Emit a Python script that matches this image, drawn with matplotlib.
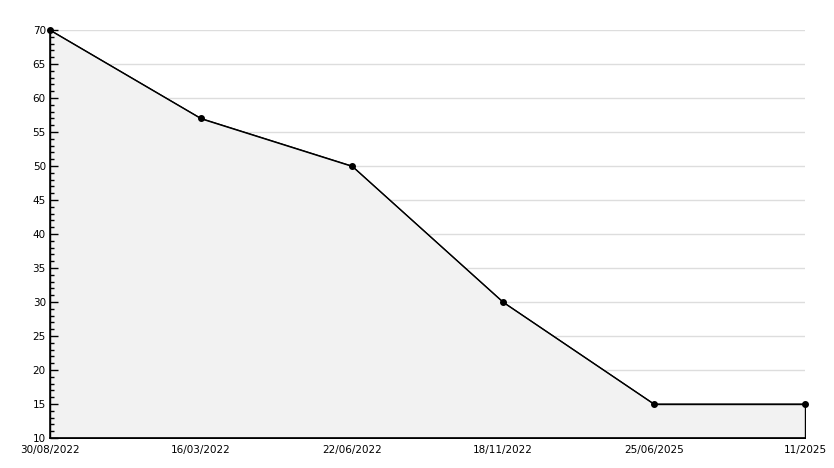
import matplotlib
matplotlib.use("Agg")
import matplotlib.pyplot as plt
from matplotlib.ticker import MultipleLocator

# data
dates = ["30/08/2022", "16/03/2022", "22/06/2022", "18/11/2022", "25/06/2025", "11/2025"]
values = [70, 57, 50, 30, 15, 15]
y_grid = [15, 20, 25, 30, 35, 40, 45, 50, 55, 60, 65, 70]

fig = plt.figure(figsize=(8.34, 4.68), dpi=100)
ax = fig.add_axes([50 / 834, 30 / 468, 755 / 834, 408 / 468])

x = list(range(len(dates)))

# gridlines under the filled area
for g in y_grid:
    ax.axhline(g, color="#dddddd", linewidth=1, zorder=0.5)

ax.fill_between(x, values, 10, facecolor="#f2f2f2", edgecolor="black", linewidth=1, zorder=1)
ax.plot(x, values, color="black", linewidth=0.8, marker="o", markersize=4, zorder=3, clip_on=False)

ax.set_xlim(0, len(dates) - 1)
ax.set_ylim(10, 70)

ax.yaxis.set_major_locator(MultipleLocator(5))
ax.yaxis.set_minor_locator(MultipleLocator(1))

ax.set_xticks(x)
ax.set_xticklabels(dates)

for s in ["top", "right"]:
    ax.spines[s].set_visible(False)
ax.spines["left"].set_linewidth(1.2)
ax.spines["bottom"].set_linewidth(1.2)

ax.tick_params(axis="y", which="major", direction="in", length=6, width=1, labelsize=7.5, pad=3)
ax.tick_params(axis="y", which="minor", direction="in", length=3, width=1)
ax.tick_params(axis="x", length=0, labelsize=7.5, pad=5)

fig.savefig("out.png", dpi=100)
